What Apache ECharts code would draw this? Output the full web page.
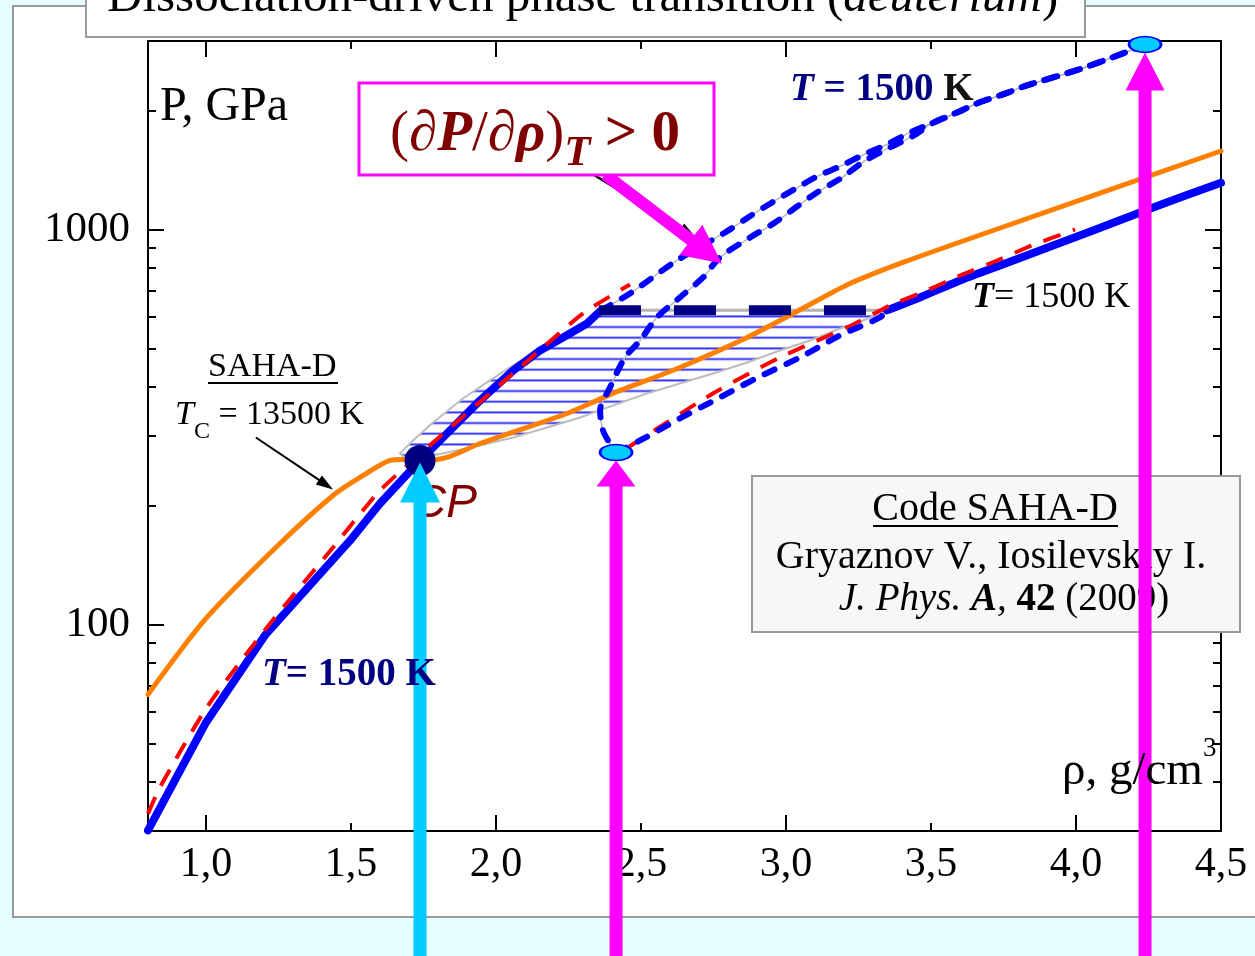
<!DOCTYPE html>
<html>
<head>
<meta charset="utf-8">
<script src="https://cdn.jsdelivr.net/npm/echarts@6/dist/echarts.min.js"></script>
<style>
  html, body { margin: 0; padding: 0; background: #e4fefe; }
  #chart { width: 1255px; height: 956px; }
</style>
</head>
<body>
<div id="chart"></div>
<script>
// ---- axis ticks and labels ----
const rhoLabelValues = [1.0, 1.5, 2.0, 2.5, 3.0, 3.5, 4.0, 4.5];
const rhoMajorTicks = [1, 2, 3, 4];
const rhoMinorTicks = [1.5, 2.5, 3.5];
const pLabelValues = [100, 1000];
const pMajorTicks = [100, 1000];
const pMinorTicks = [40, 50, 60, 70, 80, 90, 200, 300, 400, 500, 600, 700, 800, 900, 2000];

// ---- critical isotherm, SAHA-D, T_C = 13500 K ----
const critRho = [0.800, 1.000, 1.255, 1.438, 1.531, 1.634, 1.679, 1.738, 1.831, 1.945, 2.245, 2.403, 2.634, 2.866, 3.038, 3.210, 3.403, 3.714, 4.500];
const critP   = [66.5, 103.6, 160.3, 212.1, 235.6, 260.2, 261.7, 258.7, 264.8, 287.2, 342.1, 384.5, 447.4, 532.8, 620, 723.6, 825, 994, 1580];

// ---- isotherm T = 1500 K, stable branches ----
const liqRho = [0.800, 1.000, 1.203, 1.497, 1.600, 1.738, 1.831, 1.945, 2.059, 2.152, 2.231, 2.314, 2.362];
const liqP   = [30.1, 56.5, 93.8, 163.2, 202.5, 260.2, 304.4, 369.1, 439.5, 493.9, 532.8, 578.2, 624];
const denseRho = [3.348, 3.462, 3.600, 3.738, 3.921, 4.059, 4.266, 4.500];
const denseP   = [624, 672.8, 742.9, 810.6, 911.1, 994.2, 1136.9, 1313];

// ---- phase-equilibrium plateau (tie line) ----
const plateauRho = [2.355, 3.276];
const plateauP   = [624, 624];
const tieRho = [2.362, 3.348];
const tieP   = [624, 624];

// ---- isotherm T = 1500 K, metastable and unstable parts ----
const metaLiqRho = [2.362, 2.462, 2.624, 2.790, 2.869, 2.952, 3.034, 3.107, 3.193, 3.269, 3.348, 3.428, 3.510, 3.590, 3.666, 3.748, 3.831, 4.000, 4.152, 4.238];
const metaLiqP   = [624, 688.7, 834.6, 982.6, 1072.5, 1170.6, 1270, 1361.4, 1452.2, 1548.5, 1641.3, 1760.5, 1866.1, 1978, 2096, 2197, 2316, 2527, 2773, 2940];
const unstRho = [4.238, 4.152, 4.000, 3.831, 3.748, 3.666, 3.590, 3.510, 3.434, 3.352, 3.269, 3.193, 3.107, 3.038, 2.962, 2.876, 2.772, 2.714, 2.634, 2.555, 2.497, 2.445, 2.393, 2.359, 2.369, 2.393, 2.414];
const unstP   = [2940, 2773, 2527, 2316, 2197, 2096, 1978, 1866, 1719, 1604, 1487, 1353, 1241, 1143, 1041, 954, 849.3, 756, 672.8, 598.8, 523.6, 474.3, 398.1, 348.2, 309.8, 287.2, 272.5];
const metaDenRho = [2.414, 2.497, 2.634, 2.772, 2.910, 3.048, 3.186, 3.324, 3.348];
const metaDenP   = [272.5, 292.4, 332.3, 375.6, 424.5, 474.3, 539, 598.8, 624];

// ---- second model, T = 1500 K (red dashed) ----
const redLiqRho = [0.800, 0.841, 1.003, 1.210, 1.438, 1.600, 1.831, 2.083, 2.300, 2.462];
const redLiqP   = [33.2, 38.7, 61.7, 98.3, 156.6, 218.4, 309.8, 447.4, 612.9, 725.8];
const redDenRho = [2.455, 2.748, 2.979, 3.210, 3.359, 3.486, 3.600, 3.728, 3.848, 3.997];
const redDenP   = [280.6, 384.5, 474.3, 564.9, 642, 700.9, 764.6, 834.6, 911.1, 1000];

// ---- two-phase region outline ----
const lensRho = [1.669, 1.714, 1.783, 1.886, 1.979, 2.059, 2.176, 2.290, 2.362, 3.348, 3.266, 3.186, 3.083, 2.979, 2.866, 2.748, 2.634, 2.521, 2.403, 2.290, 2.176, 2.059, 1.945, 1.831, 1.748, 1.693];
const lensP   = [271.1, 292.4, 324.6, 373.4, 414.8, 452.7, 508.7, 571.5, 624, 624, 588.4, 561.6, 523.6, 493.9, 460.6, 431.9, 407.5, 384.5, 358.4, 334.3, 315.3, 297.4, 284, 272.5, 264.8, 261.7];

// ---- special points ----
const cpRho = [1.738];
const cpP   = [260.2];
const spinRho = [2.414, 4.238];
const spinP   = [272.5, 2940];

// ---- pointer arrows (tail -> tip) ----
const pointerTailRho = [2.324, 2.376, 1.172];
const pointerTailP   = [1394, 1377, 297.4];
const pointerTipRho  = [2.686, 2.779, 1.438];
const pointerTipP    = [960, 820, 219.7];

// ---------------------------------------------------------------
const serif = 'Liberation Serif';
const zip = (a, b) => a.map((v, i) => [v, b[i]]);

function arrowPoints(tail, tip, shaftW, headW, headL) {
  const dx = tip[0] - tail[0], dy = tip[1] - tail[1];
  const len = Math.hypot(dx, dy);
  const ux = dx / len, uy = dy / len, nx = -uy, ny = ux;
  const bx = tip[0] - ux * headL, by = tip[1] - uy * headL;
  return [
    [tail[0] + nx * shaftW / 2, tail[1] + ny * shaftW / 2],
    [bx + nx * shaftW / 2, by + ny * shaftW / 2],
    [bx + nx * headW / 2, by + ny * headW / 2],
    [tip[0], tip[1]],
    [bx - nx * headW / 2, by - ny * headW / 2],
    [bx - nx * shaftW / 2, by - ny * shaftW / 2],
    [tail[0] - nx * shaftW / 2, tail[1] - ny * shaftW / 2]
  ];
}

function hatchPattern(firstLineY) {
  const c = document.createElement('canvas');
  c.width = 8; c.height = 32;
  const g = c.getContext('2d');
  g.fillStyle = '#1e1eff';
  [0, 32 / 3, 64 / 3].forEach(y => g.fillRect(0, y + 4, 8, 1.8));
  return { image: c, repeat: 'repeat', x: 0, y: firstLineY - 4.9 };
}

function line(data, color, width, type, z, smooth, cap) {
  return {
    type: 'line', data, z, smooth: smooth || false, showSymbol: false, silent: true,
    lineStyle: { color, width, type: type || 'solid', cap: cap || 'butt', join: 'round' },
    animation: false
  };
}

const xBase = { type: 'value', min: 0.8, max: 4.5, splitLine: { show: false } };
const yBase = { type: 'log', logBase: 10, min: 30, max: 3000, splitLine: { show: false } };
const tickStyle = { color: '#000', width: 2 };
const axLine = { show: true, onZero: false, lineStyle: { color: '#000', width: 2 } };
const noLine = { show: false, onZero: false };

const upArrowStyle = [
  { fill: '#00ccff', shaft: 13, headW: 40, headL: 40, dy: 2 },
  { fill: '#ff00ff', shaft: 13, headW: 39, headL: 26, dy: 8 },
  { fill: '#ff00ff', shaft: 13, headW: 39, headL: 38, dy: 8 }
];
const pointerStyle = [
  { fill: '#000', shaft: 2.5, headW: 11, headL: 16 },
  { fill: '#ff00ff', shaft: 12, headW: 38, headL: 39 },
  { fill: '#000', shaft: 2, headW: 11, headL: 17 }
];

const rs = (size, o = {}) => ({
  fontSize: size, fontFamily: o.family || serif, fill: o.fill || '#000',
  fontStyle: o.italic ? 'italic' : 'normal', fontWeight: o.bold ? 'bold' : 'normal',
  lineHeight: o.lh, verticalAlign: o.va
});
function text(x, y, str, rich, align, z) {
  return {
    type: 'text', x, y, z: z || 30, silent: true,
    style: { text: str, rich, align: align || 'left', verticalAlign: 'middle',
             textAlign: align || 'left', textVerticalAlign: 'middle' }
  };
}

const navy = '#000080';
const maroon = '#800000';

const option = {
  backgroundColor: 'transparent',
  animation: false,
  textStyle: { fontFamily: serif },
  grid: { left: 148, top: 41, width: 1073, height: 790, containLabel: false },
  xAxis: [
    Object.assign({}, xBase, {
      position: 'bottom', axisLine: axLine,
      axisTick: { show: true, inside: true, length: 16, customValues: rhoMajorTicks, lineStyle: tickStyle },
      axisLabel: { show: true, customValues: rhoLabelValues, margin: 13, fontSize: 42, fontFamily: serif, color: '#000',
                   formatter: v => Number(v).toFixed(1).replace('.', ',') }
    }),
    Object.assign({}, xBase, {
      position: 'bottom', axisLine: noLine,
      axisTick: { show: true, inside: true, length: 8, customValues: rhoMinorTicks, lineStyle: tickStyle },
      axisLabel: { show: false }
    }),
    Object.assign({}, xBase, {
      position: 'top', axisLine: axLine,
      axisTick: { show: true, inside: true, length: 16, customValues: rhoMajorTicks, lineStyle: tickStyle },
      axisLabel: { show: false }
    }),
    Object.assign({}, xBase, {
      position: 'top', axisLine: noLine,
      axisTick: { show: true, inside: true, length: 8, customValues: rhoMinorTicks, lineStyle: tickStyle },
      axisLabel: { show: false }
    })
  ],
  yAxis: [
    Object.assign({}, yBase, {
      position: 'left', axisLine: axLine,
      axisTick: { show: true, inside: true, length: 16, customValues: pMajorTicks, lineStyle: tickStyle },
      axisLabel: { show: true, customValues: pLabelValues, margin: 18, fontSize: 43, fontFamily: serif, color: '#000',
                   formatter: v => String(Math.round(v)) }
    }),
    Object.assign({}, yBase, {
      position: 'left', axisLine: noLine,
      axisTick: { show: true, inside: true, length: 8, customValues: pMinorTicks, lineStyle: tickStyle },
      axisLabel: { show: false }
    }),
    Object.assign({}, yBase, {
      position: 'right', axisLine: axLine,
      axisTick: { show: true, inside: true, length: 16, customValues: pMajorTicks, lineStyle: tickStyle },
      axisLabel: { show: false }
    }),
    Object.assign({}, yBase, {
      position: 'right', axisLine: noLine,
      axisTick: { show: true, inside: true, length: 8, customValues: pMinorTicks, lineStyle: tickStyle },
      axisLabel: { show: false }
    })
  ],
  series: [
    // hatched two-phase region
    {
      type: 'custom', z: 1, silent: true, animation: false,
      data: [[lensRho[0], lensP[0]]],
      renderItem: (params, api) => {
        const pts = lensRho.map((r, i) => api.coord([r, lensP[i]]));
        const tieY = api.coord([tieRho[0], tieP[0]])[1];
        return {
          type: 'polygon', shape: { points: pts, smooth: 0 },
          style: { fill: hatchPattern(tieY + 6), stroke: '#bdbdbd', lineWidth: 2 }
        };
      }
    },
    // thin guide lines under the dashed branches
    line(zip(tieRho, tieP), '#b4b4b4', 3, 'solid', 2),
    line(zip(metaLiqRho, metaLiqP), '#b8b8b8', 1.5, 'solid', 2, 0.3),
    line(zip(unstRho, unstP), '#b8b8b8', 1.5, 'solid', 2, 0.3),
    // critical isotherm
    line(zip(critRho, critP), '#ff8000', 5, 'solid', 3, 0.25, 'round'),
    // stable T = 1500 K branches
    line(zip(liqRho, liqP), '#0000ff', 8, 'solid', 4, false, 'round'),
    line(zip(denseRho, denseP), '#0000ff', 8, 'solid', 4, 0.2, 'round'),
    // second model
    line(zip(redLiqRho, redLiqP), '#ff0000', 4, [18, 13], 5, 0.2),
    line(zip(redDenRho, redDenP), '#ff0000', 4, [18, 13], 5, 0.2),
    // metastable / unstable branches
    line(zip(metaLiqRho, metaLiqP), '#0000ff', 6, [11, 13], 5, 0.3, 'round'),
    line(zip(unstRho, unstP), '#0000ff', 6, [11, 13], 5, 0.3, 'round'),
    line(zip(metaDenRho, metaDenP), '#0000ff', 6, [11, 13], 5, 0.3, 'round'),
    // equilibrium plateau
    line(zip(plateauRho, plateauP), navy, 10, [42, 33], 6),
    // critical point
    {
      type: 'scatter', z: 6, silent: true, clip: false, animation: false,
      data: zip(cpRho, cpP), symbol: 'circle', symbolSize: 31,
      itemStyle: { color: navy, opacity: 1 }
    },
    // vertical arrows from below the chart
    {
      type: 'custom', z: 8, silent: true, clip: false, animation: false,
      data: [[cpRho[0], cpP[0]], [spinRho[0], spinP[0]], [spinRho[1], spinP[1]]],
      renderItem: (params, api) => {
        const s = upArrowStyle[params.dataIndex];
        const c = api.coord([api.value(0), api.value(1)]);
        const tip = [c[0], c[1] + s.dy];
        const tail = [c[0], api.getHeight() + 10];
        return { type: 'polygon', shape: { points: arrowPoints(tail, tip, s.shaft, s.headW, s.headL) },
                 style: { fill: s.fill } };
      }
    },
    // pointer arrows
    {
      type: 'custom', z: 8, silent: true, clip: false, animation: false,
      data: pointerTipRho.map((r, i) => [pointerTailRho[i], pointerTailP[i], r, pointerTipP[i]]),
      encode: { x: [0, 2], y: [1, 3] },
      renderItem: (params, api) => {
        const s = pointerStyle[params.dataIndex];
        const tail = api.coord([api.value(0), api.value(1)]);
        const tip = api.coord([api.value(2), api.value(3)]);
        return { type: 'polygon', shape: { points: arrowPoints(tail, tip, s.shaft, s.headW, s.headL) },
                 style: { fill: s.fill } };
      }
    },
    // spinodal points
    {
      type: 'scatter', z: 9, silent: true, clip: false, animation: false,
      data: zip(spinRho, spinP), symbol: 'circle', symbolSize: [32, 16],
      itemStyle: { color: '#00ccff', borderColor: '#0000ff', borderWidth: 2, opacity: 1 }
    }
  ],
  graphic: [
    // white panel
    { type: 'rect', z: -10, silent: true, shape: { x: 13, y: 6, width: 1262, height: 911 },
      style: { fill: '#ffffff', stroke: '#9a9a9a', lineWidth: 2 } },
    // title box
    { type: 'rect', z: 20, silent: true, shape: { x: 86, y: -10, width: 999, height: 47 },
      style: { fill: '#ffffff', stroke: '#9a9a9a', lineWidth: 2 } },
    text(107, -2, '{n|Dissociation-driven phase transition (}{i|deuterium}{n|)}',
         { n: rs(49), i: rs(49, { italic: true }) }, 'left', 21),
    // axis names
    text(160, 107, '{n|P, GPa}', { n: rs(48) }),
    text(1062, 772, '{n|ρ, g/cm}{s|3}', { n: rs(47, { lh: 74 }), s: rs(27, { lh: 27, va: 'top' }) }),
    // derivative condition box
    { type: 'rect', z: 20, silent: true, shape: { x: 359, y: 83, width: 355, height: 92 },
      style: { fill: '#ffffff', stroke: '#ff00ff', lineWidth: 3 } },
    text(390, 135, '{n|(∂}{b|P}{n|/∂}{b|ρ}{n|)}{t|T}{g| > 0}', {
      n: rs(57, { fill: maroon, lh: 80 }),
      b: rs(57, { fill: maroon, lh: 80, bold: true, italic: true }),
      t: rs(43, { fill: maroon, lh: 43, va: 'bottom', bold: true, italic: true }),
      g: rs(57, { fill: maroon, lh: 80, bold: true })
    }, 'left', 21),
    // isotherm labels
    text(790, 90, '{t|T}{n| = 1500 }{k|K}', {
      t: rs(39, { fill: navy, bold: true, italic: true }),
      n: rs(39, { fill: navy, bold: true }),
      k: rs(39, { fill: '#111', bold: true })
    }),
    text(972, 298, '{t|T}{n|= 1500 K}', {
      t: rs(36, { bold: true, italic: true }), n: rs(36)
    }),
    text(262, 675, '{t|T}{n|= 1500 K}', {
      t: rs(39, { fill: navy, bold: true, italic: true }),
      n: rs(39, { fill: navy, bold: true })
    }),
    // critical isotherm label
    text(208, 367, '{n|SAHA-D}', { n: rs(34) }),
    { type: 'line', z: 30, silent: true, shape: { x1: 208, y1: 383, x2: 338, y2: 383 },
      style: { stroke: '#000', lineWidth: 2 } },
    text(175, 415, '{t|T}{s|C}{n| = 13500 K}', {
      t: rs(34, { italic: true, lh: 58 }), s: rs(24, { lh: 24, va: 'bottom' }), n: rs(34, { lh: 58 })
    }),
    // critical point label
    text(413, 504, '{n|CP}', { n: rs(46, { family: 'Liberation Sans', italic: true, fill: maroon }) }, 'left', 7),
    // reference box
    { type: 'rect', z: 7, silent: true, shape: { x: 752, y: 476, width: 488, height: 156 },
      style: { fill: '#f7f7f7', stroke: '#9a9a9a', lineWidth: 2 } },
    text(995, 509, '{n|Code SAHA-D}', { n: rs(40) }, 'center', 7),
    { type: 'line', z: 7, silent: true, shape: { x1: 873, y1: 526, x2: 1118, y2: 526 },
      style: { stroke: '#000', lineWidth: 2 } },
    text(991, 557, '{n|Gryaznov V., Iosilevskiy I.}', { n: rs(40) }, 'center', 7),
    text(1004, 600, '{i|J. Phys. }{bi|A}{i|, }{b|42}{n| (2009)}', {
      i: rs(39, { italic: true }), bi: rs(39, { italic: true, bold: true }),
      b: rs(39, { bold: true }), n: rs(39)
    }, 'center', 7)
  ]
};

const chart = echarts.init(document.getElementById('chart'), null, { renderer: 'canvas' });
chart.setOption(option);
</script>
</body>
</html>
